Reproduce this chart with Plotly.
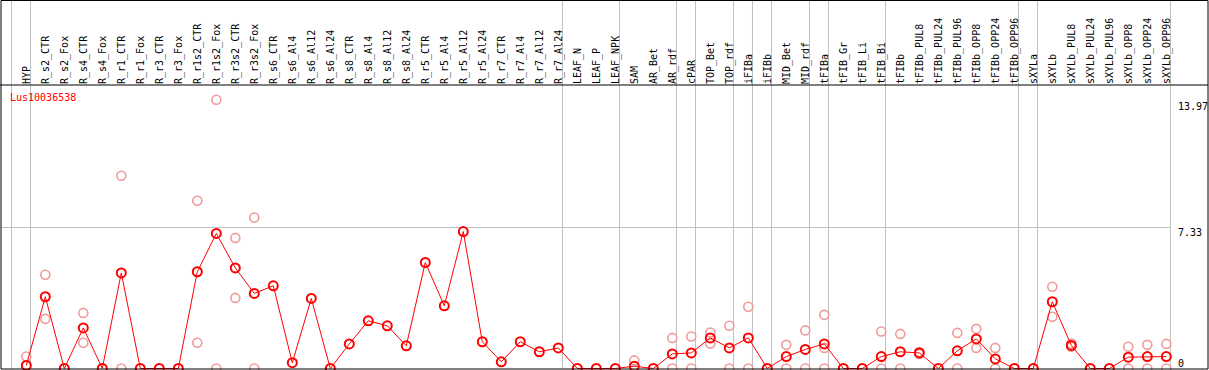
import plotly.graph_objects as go

categories = ["HYP", "R_s2_CTR", "R_s2_Fox", "R_s4_CTR", "R_s4_Fox", "R_r1_CTR", "R_r1_Fox",
              "R_r3_CTR", "R_r3_Fox", "R_r1s2_CTR", "R_r1s2_Fox", "R_r3s2_CTR", "R_r3s2_Fox",
              "R_s6_CTR", "R_s6_Al4", "R_s6_Al12", "R_s6_Al24", "R_s8_CTR", "R_s8_Al4",
              "R_s8_Al12", "R_s8_Al24", "R_r5_CTR", "R_r5_Al4", "R_r5_Al12", "R_r5_Al24",
              "R_r7_CTR", "R_r7_Al4", "R_r7_Al12", "R_r7_Al24", "LEAF_N", "LEAF_P", "LEAF_NPK",
              "SAM", "AR_Bet", "AR_rdf", "cPAR", "TOP_Bet", "TOP_rdf", "iFIBa", "iFIBb",
              "MID_Bet", "MID_rdf", "tFIBa", "tFIB_Gr", "tFIB_Li", "tFIB_Bi", "tFIBb",
              "tFIBb_PUL8", "tFIBb_PUL24", "tFIBb_PUL96", "tFIBb_OPP8", "tFIBb_OPP24",
              "tFIBb_OPP96", "sXYLa", "sXYLb", "sXYLb_PUL8", "sXYLb_PUL24", "sXYLb_PUL96",
              "sXYLb_OPP8", "sXYLb_OPP24", "sXYLb_OPP96"]

mean_values = [0.16, 3.73, 0, 2.11, 0, 4.97, 0, 0, 0, 5.03, 7.02, 5.23, 3.90,
               4.30, 0.30, 3.64, 0, 1.28, 2.48, 2.22, 1.18, 5.51, 3.26, 7.12, 1.39,
               0.35, 1.39, 0.87, 1.07, 0, 0, 0,
               0.12, 0, 0.76, 0.81, 1.59, 1.07, 1.59, 0, 0.62, 0.99,
               1.28, 0, 0, 0.62, 0.87, 0.81, 0, 0.92, 1.54, 0.50, 0,
               0, 3.47, 1.20, 0, 0, 0.59, 0.62, 0.62]

rep1 = [0.62, 4.87, None, 2.89, None, 10.02, None, None, None, 8.72, 13.97, 6.79, 7.85,
        None, None, None, None, None, None, None, None, None, None, None, None,
        None, None, None, None, None, None, None,
        0.42, None, 1.59, 1.66, 1.87, 2.22, 3.21, None, 1.23, 1.98,
        2.79, None, None, 1.92, 1.80, 0.86, None, 1.85, 2.06, 1.07, None,
        None, 4.25, 1.30, None, None, 1.13, 1.23, 1.28]

rep2 = [None, 2.58, None, 1.34, None, 0, None, None, None, 1.34, 0, 3.67, 0,
        None, None, None, None, None, None, None, None, None, None, None, None,
        None, None, None, None, None, None, None,
        None, None, 0, 0, 1.30, 0, 0, None, 0, 0,
        1.07, None, None, 0, 0, 0.76, None, 0, 1.07, 0, None,
        None, 2.69, 1.13, None, None, 0, 0, 0]

rep3 = [None] * 42 + [0] + [None] * 18

separators = [-1, 0, 28, 31, 34, 35, 37, 38, 39, 41, 42, 45, 52, 53, 60]
axis_marks = ["13.97", "7.33", "0"]
axis_vals = [13.97, 7.33, 0]
gene = "Lus10036538"

xs = list(range(len(categories)))
PALE = "#f09a9a"
RED = "#ff0000"
FONT = "DejaVu Sans Mono"

fig = go.Figure()
for rep in (rep1, rep2, rep3):
    fig.add_trace(go.Scatter(
        x=xs, y=rep, mode="markers", cliponaxis=False, showlegend=False,
        marker=dict(symbol="circle-open", size=9, color=PALE, line=dict(width=1.6, color=PALE)),
    ))
fig.add_trace(go.Scatter(
    x=xs, y=mean_values, mode="lines+markers", cliponaxis=False, showlegend=False,
    line=dict(color=RED, width=1),
    marker=dict(symbol="circle-open", size=9, color=RED, line=dict(width=2, color=RED)),
))

W, H = 1209, 370
ml, mr, mt, mb = 1, 1, 85, 1
px_per_x = 19.0
x_first = 26.3
x0 = (ml - x_first) / px_per_x
x1 = x0 + (W - ml - mr) / px_per_x
px_per_y = 141 / 7.33
y0 = -0.5 / px_per_y
y1 = y0 + (H - mt - mb) / px_per_y
plot_h = H - mt - mb
plot_w = W - ml - mr
top_paper = 1 + (mt - 0.5) / plot_h

shapes = []
for s in separators:
    shapes.append(dict(type="line", xref="x", yref="paper", x0=s + 0.22, x1=s + 0.22,
                       y0=0, y1=top_paper, line=dict(color="#c0c0c0", width=1), layer="below"))
shapes.append(dict(type="line", xref="x", yref="y", x0=x0, x1=separators[-1] + 0.22,
                   y0=7.33, y1=7.33, line=dict(color="#c0c0c0", width=1), layer="below"))
# frame
shapes.append(dict(type="rect", xref="paper", yref="paper", x0=0, x1=1, y0=0, y1=top_paper,
                   line=dict(color="black", width=1)))
shapes.append(dict(type="line", xref="paper", yref="paper", x0=-0.001, x1=1, y0=1, y1=1,
                   line=dict(color="black", width=1)))

annotations = [dict(text=gene, xref="paper", yref="paper", x=8 / plot_w,
                    y=(369 - 97) / plot_h, xanchor="left", yanchor="middle", showarrow=False,
                    font=dict(family=FONT, size=10, color=RED), borderpad=0)]
shifts = {"13.97": ("top", 0), "7.33": ("top", 2), "0": ("bottom", -1)}
for lab, v in zip(axis_marks, axis_vals):
    anc, sh = shifts[lab]
    annotations.append(dict(text=lab, xref="paper", yref="y", x=(1177 - ml) / plot_w, y=v,
                            xanchor="left", yanchor=anc, yshift=sh, showarrow=False,
                            font=dict(family=FONT, size=10, color="black"), borderpad=0))

fig.update_layout(
    width=W, height=H, margin=dict(l=ml, r=mr, t=mt, b=mb, pad=0, autoexpand=False),
    paper_bgcolor="white", plot_bgcolor="white",
    xaxis=dict(range=[x0, x1], side="top", tickmode="array", tickvals=xs, ticktext=categories,
               tickangle=-90, tickfont=dict(family=FONT, size=10, color="black"),
               showgrid=False, zeroline=False, showline=False, ticks="", automargin=False),
    yaxis=dict(range=[y0, y1], showgrid=False, zeroline=False, showline=False,
               showticklabels=False, ticks="", automargin=False),
    shapes=shapes, annotations=annotations,
)
fig.write_html("out.html", config={"displayModeBar": False},
               post_script="document.body.style.margin='0';document.body.style.overflow='hidden';")
